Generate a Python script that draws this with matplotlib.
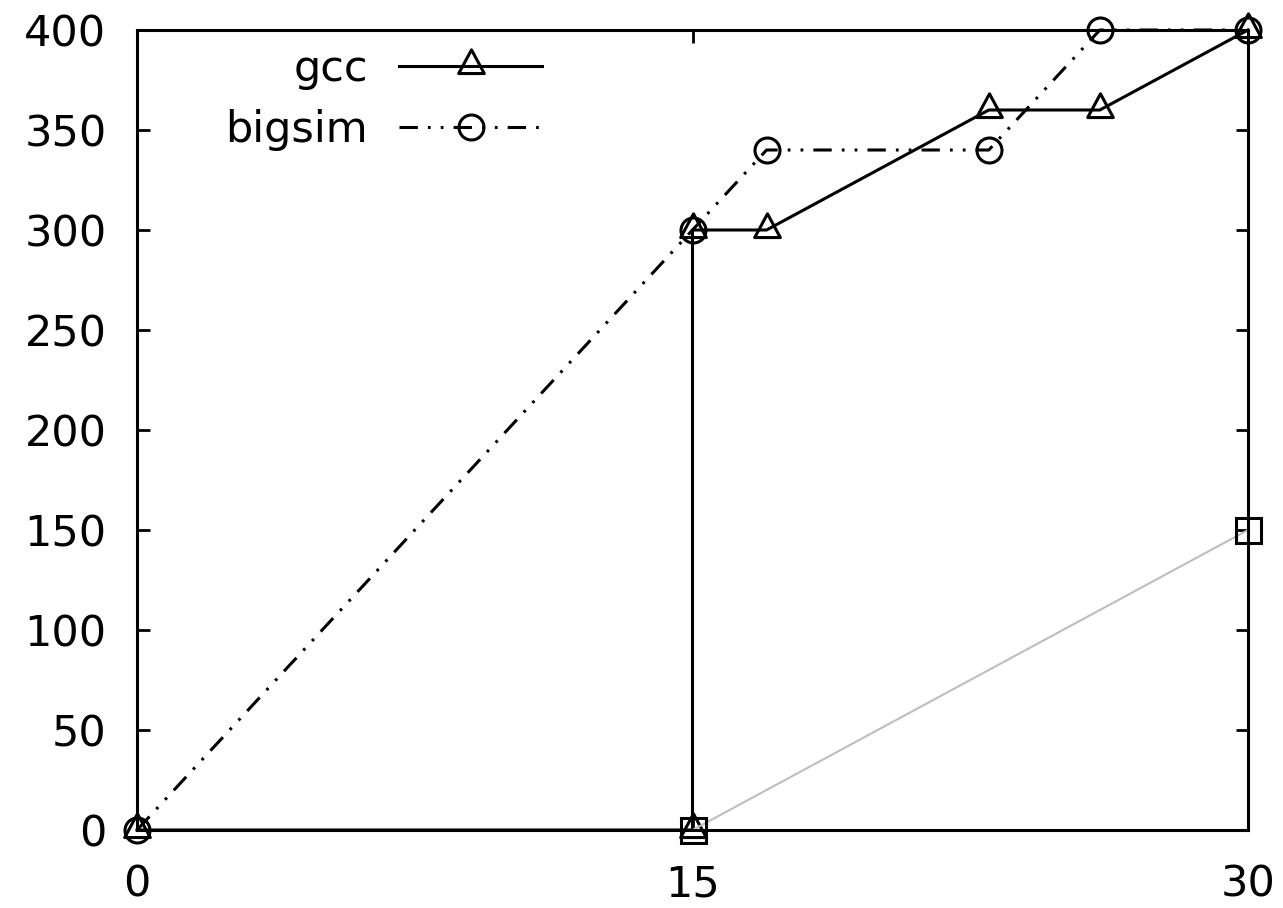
import matplotlib.pyplot as plt
from matplotlib.path import Path

plt.rcParams['font.family'] = ['DejaVu Sans']

# data
gcc_x = [0, 15, 15, 17, 23, 26, 30]
gcc_y = [0, 0, 300, 300, 360, 360, 400]
bigsim_x = [0, 15, 17, 23, 26, 30]
bigsim_y = [0, 300, 340, 340, 400, 400]
other_x = [15, 30]
other_y = [0, 150]
xticks = [0, 15, 30]
yticks = [0, 50, 100, 150, 200, 250, 300, 350, 400]

# gnuplot-like triangle (point sits low in the triangle)
tri = Path([(-1, -0.55), (1, -0.55), (0, 1.3), (-1, -0.55)],
           [Path.MOVETO, Path.LINETO, Path.LINETO, Path.CLOSEPOLY])

fig = plt.figure(figsize=(12.83, 9.08), dpi=100)
ax = fig.add_axes([137/1283, 1-830/908, (1248-137)/1283, 800/908])

lw = 2.2
ax.plot(gcc_x, gcc_y, color='black', lw=lw, marker=tri, ms=24, mfc='none',
        mew=2.2, clip_on=False, label='gcc')
ax.plot(bigsim_x, bigsim_y, color='black', lw=lw, marker='o', ms=18, mfc='none',
        mew=2.2, clip_on=False, dashes=[6, 3.3, 0.9, 3.3, 0.9, 3.3], label='bigsim')
ax.plot(other_x, other_y, color='#bebebe', lw=1.5, marker='s', ms=18,
        mfc='none', mec='black', mew=2.2, clip_on=False)

ax.set_xlim(0, 30)
ax.set_ylim(0, 400)
ax.set_xticks(xticks)
ax.set_yticks(yticks)
ax.tick_params(direction='in', length=9, width=2, labelsize=31,
               top=True, right=True)
ax.tick_params(axis='x', pad=24)
ax.tick_params(axis='y', pad=22)
for s in ax.spines.values():
    s.set_linewidth(2.2)

fig.legend(loc='upper left', bbox_to_anchor=(225/1283, 1-48/908),
           frameon=False, markerfirst=False, numpoints=1, fontsize=31,
           handlelength=3.3, handletextpad=0.74, labelspacing=0.45,
           borderpad=0, borderaxespad=0)

fig.savefig('out.png', dpi=100)
